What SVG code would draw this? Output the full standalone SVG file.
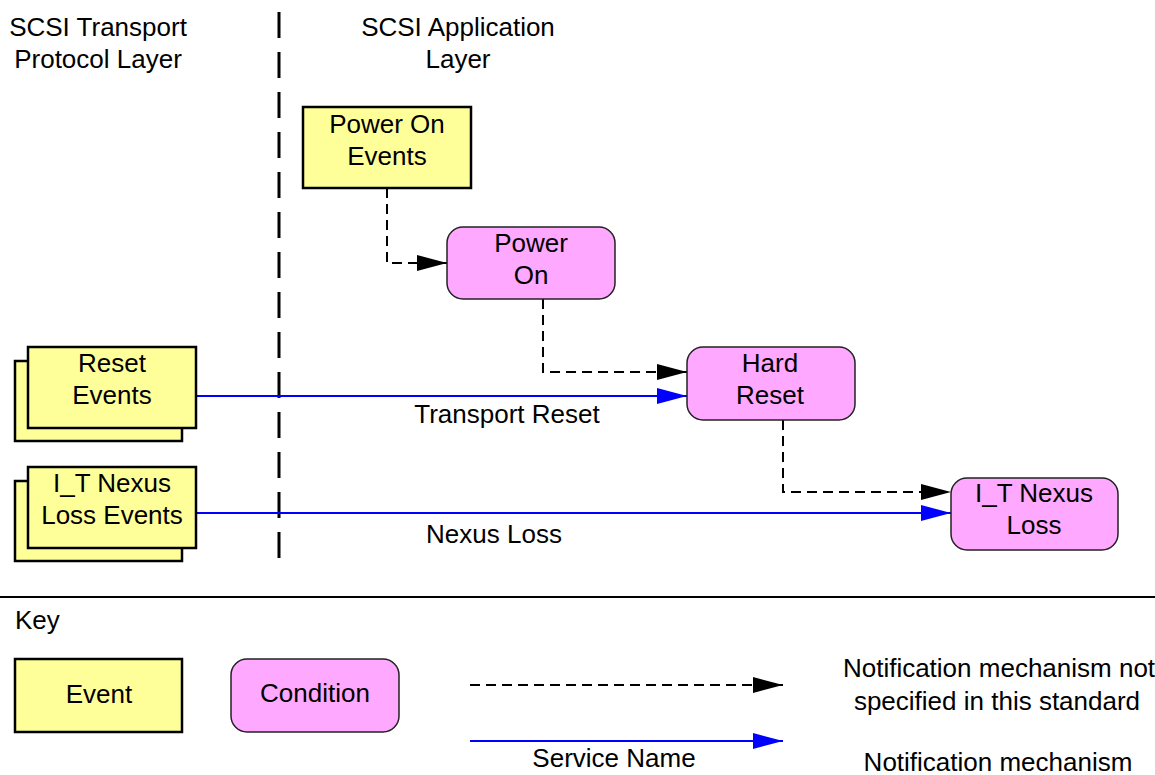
<svg xmlns="http://www.w3.org/2000/svg" width="1155" height="775" viewBox="0 0 1155 775">
<style>
text{font-family:"Liberation Sans",Arial,sans-serif;font-size:26px;fill:#000;text-anchor:middle}
.ev{fill:#FFFF99;stroke:#000;stroke-width:2.5}
.cd{fill:#FFA8FF;stroke:#222;stroke-width:1.5}
.dash{fill:none;stroke:#000;stroke-width:2;stroke-dasharray:10,6}
.svc{fill:none;stroke:#0000FF;stroke-width:2}
</style>
<defs>
<marker id="ab" markerUnits="userSpaceOnUse" markerWidth="30" markerHeight="16" refX="30" refY="8" orient="auto" viewBox="0 0 30 16"><path d="M0,0 L30,8 L0,16 z" fill="#000"/></marker>
<marker id="abl" markerUnits="userSpaceOnUse" markerWidth="30" markerHeight="16" refX="30" refY="8" orient="auto" viewBox="0 0 30 16"><path d="M0,0 L30,8 L0,16 z" fill="#0000FF"/></marker>
</defs>
<rect width="1155" height="775" fill="#fff"/>
<g id="headers">
<text x="98" y="36">SCSI Transport</text>
<text x="98" y="68">Protocol Layer</text>
<text x="458" y="36">SCSI Application</text>
<text x="458" y="68">Layer</text>
</g>
<line id="divider" x1="279" y1="12" x2="279" y2="568" stroke="#000" stroke-width="3" stroke-dasharray="26,14"/>
<g id="connectors">
<path class="dash" d="M387,188 V263 H447" marker-end="url(#ab)"/>
<path class="dash" d="M543,299 V372 H687" marker-end="url(#ab)"/>
<path class="dash" d="M783,420 V492 H951" marker-end="url(#ab)"/>
<path class="svc" d="M196,396 H687" marker-end="url(#abl)"/>
<path class="svc" d="M196,513 H951" marker-end="url(#abl)"/>
<text x="507" y="423">Transport Reset</text>
<text x="494" y="543">Nexus Loss</text>
</g>
<g id="power-on-events">
<rect class="ev" x="303" y="107" width="168" height="81"/>
<text x="387" y="133">Power On</text>
<text x="387" y="165">Events</text>
</g>
<g id="power-on">
<rect class="cd" x="447" y="227" width="168" height="72" rx="16"/>
<text x="531" y="252">Power</text>
<text x="531" y="284">On</text>
</g>
<g id="hard-reset">
<rect class="cd" x="687" y="347" width="168" height="73" rx="16"/>
<text x="770" y="372">Hard</text>
<text x="770" y="404">Reset</text>
</g>
<g id="it-nexus-loss">
<rect class="cd" x="951" y="478" width="167" height="72" rx="16"/>
<text x="1034" y="502">I_T Nexus</text>
<text x="1034" y="534">Loss</text>
</g>
<g id="reset-events">
<rect class="ev" x="15" y="361" width="167" height="80"/>
<rect class="ev" x="28" y="347" width="168" height="81"/>
<text x="112" y="372">Reset</text>
<text x="112" y="404">Events</text>
</g>
<g id="nexus-loss-events">
<rect class="ev" x="15" y="481" width="167" height="80"/>
<rect class="ev" x="28" y="467" width="168" height="81"/>
<text x="112" y="492">I_T Nexus</text>
<text x="112" y="524">Loss Events</text>
</g>
<line id="separator" x1="0" y1="597" x2="1155" y2="597" stroke="#000" stroke-width="2"/>
<g id="key">
<text x="15" y="629" style="text-anchor:start">Key</text>
<g id="key-event">
<rect class="ev" x="15" y="659" width="167" height="73"/>
<text x="99" y="703">Event</text>
</g>
<g id="key-condition">
<rect class="cd" x="231" y="659" width="168" height="73" rx="16"/>
<text x="315" y="702">Condition</text>
</g>
<g id="key-dashed">
<path class="dash" d="M470,685 H783" marker-end="url(#ab)"/>
<text x="999" y="677">Notification mechanism not</text>
<text x="997" y="710">specified in this standard</text>
</g>
<g id="key-service">
<path class="svc" d="M470,741 H783" marker-end="url(#abl)"/>
<text x="614" y="767">Service Name</text>
<text x="998" y="771">Notification mechanism</text>
</g>
</g>
</svg>
